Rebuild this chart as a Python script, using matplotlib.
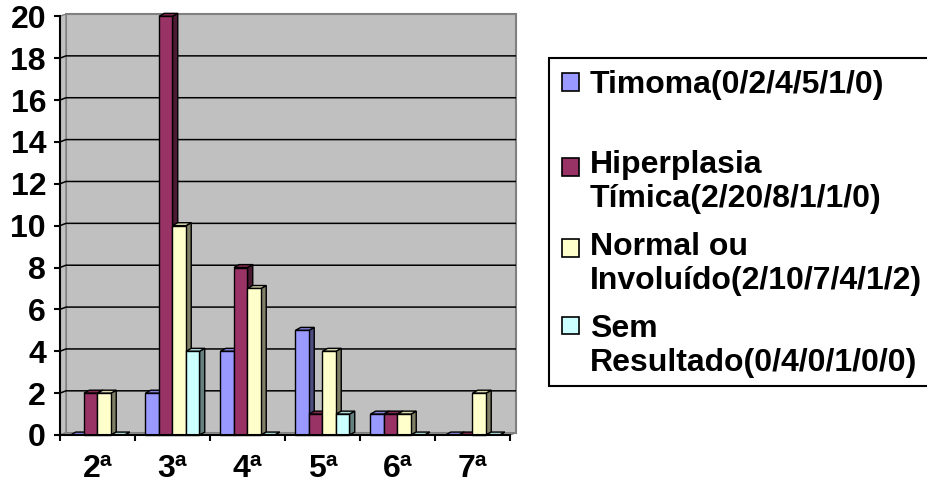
import matplotlib
matplotlib.use("Agg")
import matplotlib.pyplot as plt
from matplotlib.patches import Polygon, Rectangle
import numpy as np

plt.rcParams["font.family"] = ["Liberation Sans", "DejaVu Sans"]
plt.rcParams["font.weight"] = "bold"

CATEGORIES = ["2ª", "3ª", "4ª", "5ª", "6ª", "7ª"]
SERIES = [
    "Timoma(0/2/4/5/1/0)",
    "Hiperplasia\nTímica(2/20/8/1/1/0)",
    "Normal ou\nInvoluído(2/10/7/4/1/2)",
    "Sem\nResultado(0/4/0/1/0/0)",
]
timoma = [0, 2, 4, 5, 1, 0]
hiperplasia = [2, 20, 8, 1, 1, 0]
normal = [2, 10, 7, 4, 1, 2]
sem_resultado = [0, 4, 0, 1, 0, 0]
VALUES = [timoma, hiperplasia, normal, sem_resultado]
Y_TICKS = list(range(0, 21, 2))

FRONT = ["#9999FF", "#993366", "#FFFFCC", "#CCFFFF"]
SIDE = ["#4D4D80", "#4D1A33", "#808066", "#668080"]
TOP = ["#8282D9", "#82294F", "#D9D9AD", "#ADD9D9"]

FS = 23
W_PX, H_PX = 927, 484
fig = plt.figure(figsize=(W_PX / 100, H_PX / 100), dpi=100)

# axes in pixel units: front plane x 60..510, y 435..16 (from top)
DX, DY = 0.08, 0.11          # wall depth in data units
BDX, BDY = 0.07, 0.14        # bar depth
ax = fig.add_axes([60 / W_PX, 49 / H_PX, 456 / W_PX, 421 / H_PX])
ax.set_xlim(-0.5, 5.5 + DX)
ax.set_ylim(0, 20 + DY)
ax.patch.set_visible(False)

n = len(CATEGORIES)
x = np.arange(n)

# back wall, side wall, floor
ax.add_patch(Rectangle((-0.5 + DX, DY), 6, 20, facecolor="#C0C0C0",
                       edgecolor="#808080", lw=1.5, zorder=0, clip_on=False))
ax.add_patch(Polygon([(-0.5, 0), (-0.5 + DX, DY), (-0.5 + DX, 20 + DY), (-0.5, 20)],
                     facecolor="#C0C0C0", edgecolor="#808080", lw=1.0, zorder=0))
ax.add_patch(Polygon([(-0.5, 0), (5.5, 0), (5.5 + DX, DY), (-0.5 + DX, DY)],
                     facecolor="#A0A0A0", edgecolor="#808080", lw=1.0, zorder=0.5))
for yv in Y_TICKS[1:-1]:
    ax.plot([-0.5, -0.5 + DX, 5.5 + DX], [yv, yv + DY, yv + DY],
            color="black", lw=1.1, zorder=0.8)

# 3-D bars
W = 0.18
for i in range(n):
    for j, vals in enumerate(VALUES):
        x0 = x[i] + (j - 2) * W
        h = vals[i]
        z = 2 + i + j * 0.1
        side = [(x0 + W, 0), (x0 + W + BDX, BDY), (x0 + W + BDX, h + BDY), (x0 + W, h)]
        top = [(x0, h), (x0 + BDX, h + BDY), (x0 + W + BDX, h + BDY), (x0 + W, h)]
        ax.add_patch(Polygon(side, facecolor=SIDE[j], edgecolor="black", lw=1.0,
                             zorder=z, clip_on=False))
        ax.add_patch(Polygon(top, facecolor=TOP[j], edgecolor="black", lw=1.0,
                             zorder=z, clip_on=False))
        if h > 0:
            ax.bar(x0, h, width=W, align="edge", color=FRONT[j], edgecolor="black",
                   lw=1.0, zorder=z + 0.01, clip_on=False)

# axes / ticks
for s in ["top", "right"]:
    ax.spines[s].set_visible(False)
ax.spines["left"].set_bounds(0, 20)
ax.spines["bottom"].set_bounds(-0.5, 5.5)
for s in ["left", "bottom"]:
    ax.spines[s].set_linewidth(1.5)
    ax.spines[s].set_zorder(20)

ax.set_yticks(Y_TICKS)
ax.set_yticklabels([str(t) for t in Y_TICKS], fontsize=FS, fontweight="bold")
ax.tick_params(axis="y", length=4, width=1.5, pad=6)
ax.set_xticks(np.arange(-0.5, n, 1.0))
ax.set_xticklabels([])
ax.tick_params(axis="x", which="major", length=4, width=1.5)
ax.set_xticks(x, minor=True)
ax.set_xticklabels(CATEGORIES, minor=True, fontsize=FS, fontweight="bold")
ax.tick_params(axis="x", which="minor", length=0, pad=14)


# legend drawn by hand (Excel-style, markers aligned with first line)
def fx(px):
    return px / W_PX


def fy(py):
    return (H_PX - py) / H_PX


fig.patches.append(Rectangle((fx(549), fy(386)), fx(400), (386 - 58) / H_PX,
                             transform=fig.transFigure, facecolor="white",
                             edgecolor="black", lw=1.5, zorder=1))
entry_top = [93, 173, 255, 337]
marker_mid = [82, 167, 248, 325]
for j, label in enumerate(SERIES):
    fig.patches.append(Rectangle((fx(562), fy(marker_mid[j] + 8.5)), fx(17), 17 / H_PX,
                                 transform=fig.transFigure, facecolor=FRONT[j],
                                 edgecolor="black", lw=1.2, zorder=2))
    for k, line in enumerate(label.split("\n")):
        fig.text(fx(590), fy(entry_top[j] + 34 * k), line, fontsize=FS,
                 fontweight="bold", va="baseline", ha="left", zorder=3)

fig.savefig("out.png", dpi=100)
